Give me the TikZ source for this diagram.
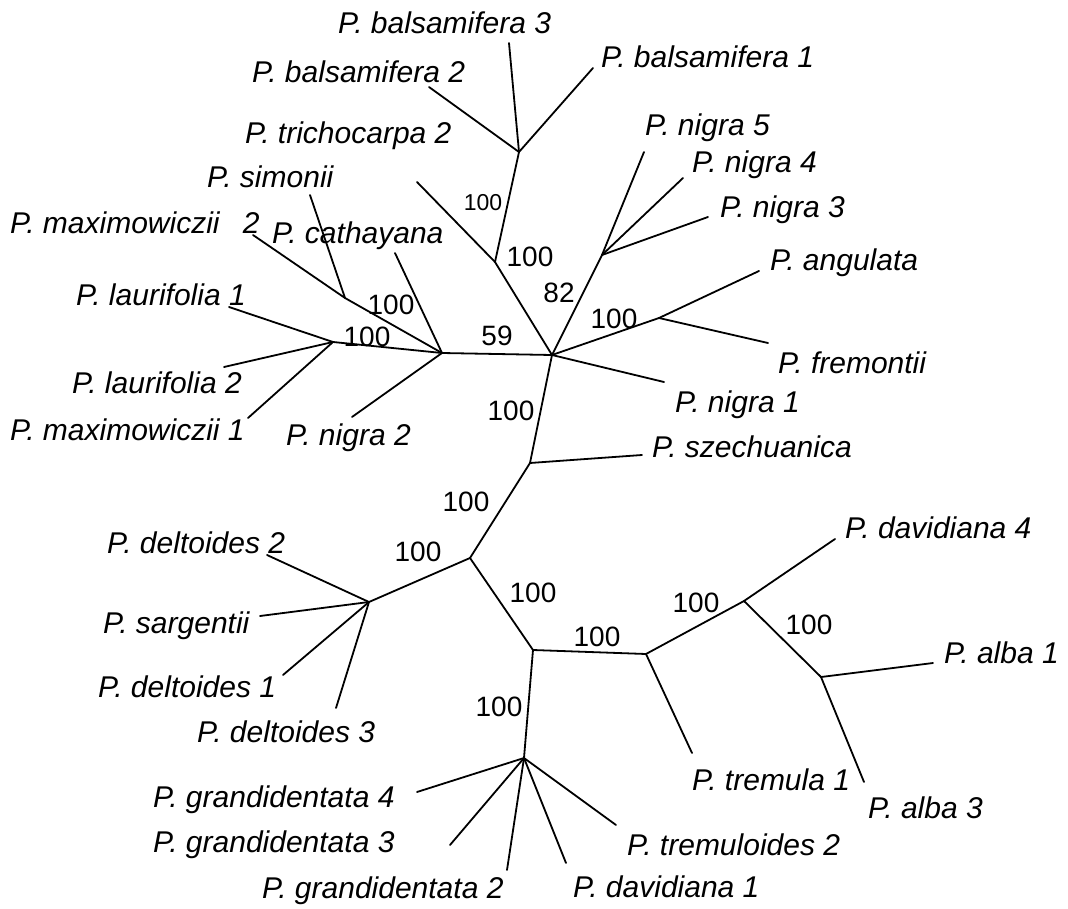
\documentclass[tikz,border=0pt]{standalone}
\usepackage{fontspec}
\setmainfont{Liberation Sans}
\begin{document}
\begin{tikzpicture}[x=1pt,y=-1pt,
  br/.style={line width=1.8pt, line cap=round, line join=round},
  lab/.style={font=\fontsize{30}{36}\selectfont\itshape, anchor=west, inner sep=0pt, text height=21.6pt, text depth=0pt},
  bs/.style={font=\fontsize{28}{32}\selectfont, inner sep=0pt, text height=20pt, text depth=0pt},
  bss/.style={font=\fontsize{23}{28}\selectfont, inner sep=0pt, text height=16.5pt, text depth=0pt}]
\useasboundingbox (0,0) rectangle (1068,909);
% internal nodes
\coordinate (N) at (552,355);
\coordinate (T) at (495,262);
\coordinate (B) at (519,152);
\coordinate (G) at (602,255);
\coordinate (A) at (659,318);
\coordinate (C) at (442,353);
\coordinate (S) at (345,298);
\coordinate (L) at (333,342);
\coordinate (Z) at (530,463);
\coordinate (D) at (470,558);
\coordinate (E) at (369,602);
\coordinate (H) at (533,650);
\coordinate (GR) at (524,758);
\coordinate (Q) at (646,654);
\coordinate (P) at (744,601);
\coordinate (R) at (821,677);
% leaf ends
\coordinate (lb3) at (509,43);
\coordinate (lb2) at (429,87);
\coordinate (lb1) at (593,68);
\coordinate (lt2) at (417,182);
\coordinate (ln5) at (644,152);
\coordinate (ln4) at (683,178);
\coordinate (ln3) at (708,217);
\coordinate (lang) at (759,271);
\coordinate (lfre) at (768,343);
\coordinate (ln1) at (664,382);
\coordinate (lsim) at (310,195);
\coordinate (lmx2) at (253,235);
\coordinate (lcat) at (395,253);
\coordinate (ln2) at (352,417);
\coordinate (ll1) at (229,307);
\coordinate (ll2) at (224,367);
\coordinate (lmx1) at (248,418);
\coordinate (lsz) at (642,455);
\coordinate (ld2) at (267,555);
\coordinate (lsar) at (260,616);
\coordinate (ld1) at (283,675);
\coordinate (ld3) at (336,708);
\coordinate (lg4) at (417,792);
\coordinate (lg3) at (450,845);
\coordinate (lg2) at (507,870);
\coordinate (ldv1) at (566,863);
\coordinate (ltr2) at (616,825);
\coordinate (ltm1) at (692,753);
\coordinate (ldv4) at (835,539);
\coordinate (la1) at (933,663);
\coordinate (la3) at (864,782);
% branches
\draw[br] (N) -- (C);
\draw[br] (N) -- (T);
\draw[br] (N) -- (G);
\draw[br] (N) -- (A);
\draw[br] (N) -- (ln1);
\draw[br] (N) -- (Z);
\draw[br] (T) -- (lt2);
\draw[br] (T) -- (B);
\draw[br] (B) -- (lb3);
\draw[br] (B) -- (lb2);
\draw[br] (B) -- (lb1);
\draw[br] (G) -- (ln5);
\draw[br] (G) -- (ln4);
\draw[br] (G) -- (ln3);
\draw[br] (A) -- (lang);
\draw[br] (A) -- (lfre);
\draw[br] (C) -- (L);
\draw[br] (C) -- (S);
\draw[br] (C) -- (lcat);
\draw[br] (C) -- (ln2);
\draw[br] (S) -- (lsim);
\draw[br] (S) -- (lmx2);
\draw[br] (L) -- (ll1);
\draw[br] (L) -- (ll2);
\draw[br] (L) -- (lmx1);
\draw[br] (Z) -- (lsz);
\draw[br] (Z) -- (D);
\draw[br] (D) -- (E);
\draw[br] (D) -- (H);
\draw[br] (E) -- (ld2);
\draw[br] (E) -- (lsar);
\draw[br] (E) -- (ld1);
\draw[br] (E) -- (ld3);
\draw[br] (H) -- (GR);
\draw[br] (H) -- (Q);
\draw[br] (GR) -- (lg4);
\draw[br] (GR) -- (lg3);
\draw[br] (GR) -- (lg2);
\draw[br] (GR) -- (ldv1);
\draw[br] (GR) -- (ltr2);
\draw[br] (Q) -- (ltm1);
\draw[br] (Q) -- (P);
\draw[br] (P) -- (ldv4);
\draw[br] (P) -- (R);
\draw[br] (R) -- (la1);
\draw[br] (R) -- (la3);
% leaf labels
\node[lab] (tb3) at (338,23) {P. balsamifera 3};
\node[lab] (tb2) at (252,72) {P. balsamifera 2};
\node[lab] (tb1) at (601,57) {P. balsamifera 1};
\node[lab] (tt2) at (245,133) {P. trichocarpa 2};
\node[lab] (tsim) at (207,177) {P. simonii};
\node[lab] (tmx2) at (10,223) {P. maximowiczii\hspace{0.5em} 2};
\node[lab] (tcat) at (272,233) {P. cathayana};
\node[lab] (tl1) at (76,295) {P. laurifolia 1};
\node[lab] (tl2) at (72,383) {P. laurifolia 2};
\node[lab] (tmx1) at (10,430) {P. maximowiczii 1};
\node[lab] (tn2) at (286,435) {P. nigra 2};
\node[lab] (tn5) at (645,125) {P. nigra 5};
\node[lab] (tn4) at (692,162) {P. nigra 4};
\node[lab] (tn3) at (720,207) {P. nigra 3};
\node[lab] (tang) at (770,260) {P. angulata};
\node[lab] (tfre) at (778,363) {P. fremontii};
\node[lab] (tn1) at (675,402) {P. nigra 1};
\node[lab] (tsz) at (652,447) {P. szechuanica};
\node[lab] (td2) at (107,543) {P. deltoides 2};
\node[lab] (tsar) at (103,623) {P. sargentii};
\node[lab] (td1) at (98,687) {P. deltoides 1};
\node[lab] (td3) at (197,732) {P. deltoides 3};
\node[lab] (tg4) at (153,797) {P. grandidentata 4};
\node[lab] (tg3) at (153,842) {P. grandidentata 3};
\node[lab] (tg2) at (262,888) {P. grandidentata 2};
\node[lab] (tdv4) at (845,528) {P. davidiana 4};
\node[lab] (ta1) at (944,653) {P. alba 1};
\node[lab] (ta3) at (868,808) {P. alba 3};
\node[lab] (ttm1) at (692,780) {P. tremula 1};
\node[lab] (ttr2) at (627,845) {P. tremuloides 2};
\node[lab] (tdv1) at (573,887) {P. davidiana 1};
% bootstrap values
\node[bss] (v1) at (483,202) {100};
\node[bs] (v2) at (530,257) {100};
\node[bs] (v3) at (391,304) {100};
\node[bs] (v4) at (367,336) {100};
\node[bs] (v5) at (497,335) {59};
\node[bs] (v6) at (511,410) {100};
\node[bs] (v7) at (559,293) {82};
\node[bs] (v8) at (614,318) {100};
\node[bs] (v9) at (466,501) {100};
\node[bs] (v10) at (418,551) {100};
\node[bs] (v11) at (533,592) {100};
\node[bs] (v12) at (499,706) {100};
\node[bs] (v13) at (597,636) {100};
\node[bs] (v14) at (696,602) {100};
\node[bs] (v15) at (809,624) {100};
\end{tikzpicture}
\end{document}
